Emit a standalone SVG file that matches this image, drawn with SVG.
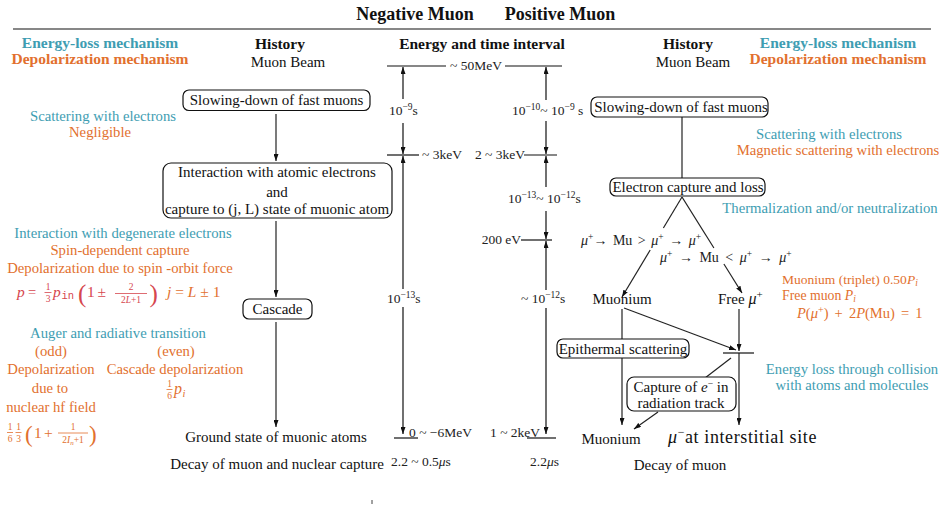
<svg xmlns="http://www.w3.org/2000/svg" width="946" height="505" viewBox="0 0 946 505">
<defs>
<marker id="ah" viewBox="0 0 7 5" refX="7" refY="2.5" markerWidth="7" markerHeight="5" markerUnits="userSpaceOnUse" orient="auto-start-reverse">
<path d="M0,0 L7,2.5 L0,5 z" fill="#111"/>
</marker>
<style>
text{font-family:"Liberation Serif","Times New Roman",serif;fill:#111}
.t{font-size:18px;font-weight:bold}
.h{font-size:15.5px;font-weight:bold}
.n{font-size:15px}
.c{text-anchor:middle}
.teal{fill:#3e9db2;font-size:14.7px}
.org{fill:#e2702e;font-size:14.7px}
.red{fill:#d6464e}
.m{font-size:13.5px;fill:#222}
.i{font-style:italic}
.sup{font-size:9.5px}
.box{fill:#fff;stroke:#111;stroke-width:1.2}
.cn{stroke:#222;stroke-width:1.2;fill:none}
.ln{stroke:#111;stroke-width:1.2;fill:none}
.ar{marker-end:url(#ah)}
.as{marker-start:url(#ah)}
</style>
</defs>

<g id="titles">
<text class="t c" x="415" y="20">Negative Muon</text>
<text class="t c" x="560" y="20">Positive Muon</text>
<line class="ln" x1="13" y1="29" x2="931" y2="29"/>
<text class="h c" x="100" y="48" style="fill:#3e9db2">Energy-loss mechanism</text>
<text class="h c" x="100" y="63.5" style="fill:#e2702e">Depolarization mechanism</text>
<text class="h c" x="280" y="49">History</text>
<text class="n c" x="288" y="67">Muon Beam</text>
<text class="h c" x="482" y="49">Energy and time interval</text>
<text class="h c" x="688" y="49">History</text>
<text class="n c" x="693" y="67">Muon Beam</text>
<text class="h c" x="838" y="48" style="fill:#3e9db2">Energy-loss mechanism</text>
<text class="h c" x="838" y="63.5" style="fill:#e2702e">Depolarization mechanism</text>
</g>

<g id="connectors">
<line class="cn ar" x1="276" y1="114" x2="276" y2="161"/>
<line class="cn ar" x1="276" y1="221" x2="276" y2="297"/>
<line class="cn ar" x1="276" y1="322" x2="276" y2="427"/>
<line class="ln" x1="387" y1="66" x2="446" y2="66"/>
<line class="ln" x1="505" y1="66" x2="562" y2="66"/>
<line class="ln" x1="387" y1="155" x2="419" y2="155"/>
<line class="ln" x1="524" y1="155" x2="557" y2="155"/>
<line class="ln" x1="521" y1="240" x2="552" y2="240"/>
<line class="ln" x1="394" y1="438" x2="418" y2="438"/>
<line class="ln" x1="527" y1="438" x2="556" y2="438"/>
<line class="ln as" x1="403" y1="67" x2="403" y2="99"/>
<line class="ln ar" x1="403" y1="123" x2="403" y2="154"/>
<line class="ln as" x1="403" y1="156" x2="403" y2="289"/>
<line class="ln ar" x1="403" y1="307" x2="403" y2="434"/>
<line class="ln as" x1="546" y1="67" x2="546" y2="100"/>
<line class="ln ar" x1="546" y1="121" x2="546" y2="154"/>
<line class="ln as" x1="546" y1="156" x2="546" y2="187"/>
<line class="ln ar" x1="546" y1="211" x2="546" y2="239"/>
<line class="ln as" x1="546" y1="241" x2="546" y2="290"/>
<line class="ln ar" x1="546" y1="308" x2="546" y2="434"/>
<line class="cn" x1="682" y1="117" x2="682" y2="178"/>
<line class="cn" x1="682" y1="197" x2="663.4" y2="228"/>
<line class="cn ar" x1="650.2" y1="250" x2="622" y2="297"/>
<line class="cn" x1="682" y1="197" x2="713.9" y2="248"/>
<line class="cn ar" x1="723.9" y1="264" x2="742" y2="293"/>
<line class="cn ar" x1="622" y1="309" x2="622" y2="425"/>
<line class="cn ar" x1="624" y1="308" x2="736" y2="350"/>
<line class="cn ar" x1="739" y1="309" x2="739" y2="351"/>
<line class="cn ar" x1="739" y1="353" x2="739" y2="425"/>
<line class="ln" x1="723" y1="353" x2="754" y2="353"/>
<line class="cn" x1="731" y1="358" x2="705" y2="378"/>
<line class="cn ar" x1="658" y1="412" x2="634" y2="429"/>
<line class="ln" x1="372" y1="500" x2="372" y2="504" style="stroke-width:0.8"/>
</g>

<g id="neg-slowing">
<rect class="box" x="183" y="90" width="187" height="20.5" rx="6"/>
<text class="n c" x="276.5" y="105">Slowing-down of fast muons</text>
</g>
<g id="neg-interaction">
<rect class="box" x="163" y="163" width="229" height="55" rx="8"/>
<text class="n c" x="277" y="177">Interaction with atomic electrons</text>
<text class="n c" x="277" y="197">and</text>
<text class="n c" x="277" y="214">capture to (j, L) state of muonic atom</text>
</g>
<g id="neg-cascade">
<rect class="box" x="243" y="299" width="69" height="20" rx="6"/>
<text class="n c" x="277.5" y="314">Cascade</text>
</g>
<g id="neg-ground">
<text class="n c" x="276" y="442">Ground state of muonic atoms</text>
<text class="n c" x="277" y="469">Decay of muon and nuclear capture</text>
</g>

<g id="neg-mechanisms">
<text class="teal c" x="103" y="121">Scattering with electrons</text>
<text class="org c" x="100" y="137">Negligible</text>
<text class="teal c" x="123" y="238">Interaction with degenerate electrons</text>
<text class="org c" x="120" y="255">Spin-dependent capture</text>
<text class="org c" x="120" y="273">Depolarization due to spin -orbit force</text>
<g>
<text class="red i" x="17" y="297" style="font-size:15.5px">p</text>
<text class="red" x="28" y="297" style="font-size:14.5px">=</text>
<text class="red c" x="48" y="290" style="font-size:9.5px">1</text>
<line x1="44.5" y1="292.5" x2="51.5" y2="292.5" stroke="#d6464e" stroke-width="0.8"/>
<text class="red c" x="48" y="301.5" style="font-size:9.5px">3</text>
<text class="red i" x="53" y="297" style="font-size:15.5px">p</text>
<text class="red" x="61.5" y="299" style="font-size:10.5px;font-family:'Liberation Mono',monospace">in</text>
<text class="red" x="78" y="301.5" style="font-size:25px">(</text>
<text class="red" x="87" y="297" style="font-size:15.5px">1</text>
<text class="red" x="97.5" y="297" style="font-size:15.5px">±</text>
<text class="red c" x="131" y="290" style="font-size:9.5px">2</text>
<line x1="115" y1="293.5" x2="147" y2="293.5" stroke="#d6464e" stroke-width="0.8"/>
<text class="red c" x="131" y="302.5" style="font-size:9.5px">2<tspan class="i">L</tspan>+1</text>
<text class="red" x="149.5" y="301.5" style="font-size:25px">)</text>
</g>
<text class="org" x="167" y="297" style="font-size:15.5px"><tspan class="i">j</tspan> = <tspan class="i">L</tspan> ± 1</text>
<text class="teal c" x="118" y="338">Auger and radiative transition</text>
<text class="org c" x="51" y="356">(odd)</text>
<text class="org c" x="176" y="356">(even)</text>
<text class="org c" x="51" y="374">Depolarization</text>
<text class="org c" x="175" y="374">Cascade depolarization</text>
<text class="org c" x="50" y="393">due to</text>
<text class="org c" x="51" y="412">nuclear hf field</text>
<text class="org c" x="169.5" y="387" style="font-size:9.5px">1</text>
<line x1="166.5" y1="389.5" x2="172.5" y2="389.5" stroke="#e2702e" stroke-width="0.8"/>
<text class="org c" x="169.5" y="398.5" style="font-size:9.5px">6</text>
<text class="org i" x="174" y="394" style="font-size:16px">p</text>
<text class="org i" x="182.5" y="397" style="font-size:10.5px">i</text>
<text class="org c" x="10" y="430" style="font-size:9.5px">1</text>
<line x1="7" y1="432.5" x2="13" y2="432.5" stroke="#e2702e" stroke-width="0.8"/>
<text class="org c" x="10" y="441.5" style="font-size:9.5px">6</text>
<text class="org c" x="18.5" y="430" style="font-size:9.5px">1</text>
<line x1="15.5" y1="432.5" x2="21.5" y2="432.5" stroke="#e2702e" stroke-width="0.8"/>
<text class="org c" x="18.5" y="441.5" style="font-size:9.5px">3</text>
<text class="org" x="25" y="442" style="font-size:23px">(</text>
<text class="org" x="34" y="438" style="font-size:15.5px">1</text>
<text class="org" x="44" y="438" style="font-size:15.5px">+</text>
<text class="org c" x="73" y="430" style="font-size:9.5px">1</text>
<line x1="58" y1="433" x2="88" y2="433" stroke="#e2702e" stroke-width="0.8"/>
<text class="org c" x="73" y="442.5" style="font-size:9.5px">2<tspan class="i">I</tspan><tspan class="i" style="font-size:7px" dy="2">n</tspan><tspan dy="-2">+1</tspan></text>
<text class="org" x="89" y="442" style="font-size:23px">)</text>
</g>

<g id="energy-labels">
<text class="m c" x="476" y="70">~ 50MeV</text>
<text class="m" x="389" y="115">10<tspan class="sup" dy="-5">−9</tspan><tspan dy="5">s</tspan></text>
<text class="m" x="422" y="159">~ 3keV</text>
<text class="m" x="387" y="303">10<tspan class="sup" dy="-5">−13</tspan><tspan dy="5">s</tspan></text>
<text class="m" x="409" y="437">0 ~ −6MeV</text>
<text class="m" x="391" y="466">2.2 ~ 0.5<tspan class="i">μ</tspan>s</text>
<text class="m" x="512" y="115">10<tspan class="sup" dy="-5">−10</tspan><tspan dy="5">~ 10</tspan><tspan class="sup" dy="-5">−9</tspan><tspan dy="5"> s</tspan></text>
<text class="m" x="525" y="159" text-anchor="end">2 ~ 3keV</text>
<text class="m" x="508" y="203">10<tspan class="sup" dy="-5">−13</tspan><tspan dy="5">~ 10</tspan><tspan class="sup" dy="-5">−12</tspan><tspan dy="5">s</tspan></text>
<text class="m" x="521" y="244" text-anchor="end">200 eV</text>
<text class="m" x="521" y="303">~ 10<tspan class="sup" dy="-5">−12</tspan><tspan dy="5">s</tspan></text>
<text class="m" x="490" y="437">1 ~ 2keV</text>
<text class="m" x="530" y="466">2.2<tspan class="i">μ</tspan>s</text>
</g>

<g id="pos-slowing">
<rect class="box" x="591" y="97" width="177" height="20" rx="6"/>
<text class="n c" x="681" y="112">Slowing-down of fast muons</text>
</g>
<g id="pos-electron-capture">
<rect class="box" x="610" y="178" width="155" height="18" rx="6"/>
<text class="n c" x="688" y="192">Electron capture and loss</text>
</g>
<g id="pos-branch-labels">
<text class="m" x="581" y="245" style="font-size:14px;word-spacing:2px"><tspan class="i">μ</tspan><tspan class="sup" dy="-5">+</tspan><tspan dy="5">→ Mu &gt; </tspan><tspan class="i">μ</tspan><tspan class="sup" dy="-5">+</tspan><tspan dy="5"> → </tspan><tspan class="i">μ</tspan><tspan class="sup" dy="-5">+</tspan></text>
<text class="m" x="660" y="262" style="font-size:14px;word-spacing:3px"><tspan class="i">μ</tspan><tspan class="sup" dy="-5">+</tspan><tspan dy="5"> → Mu &lt; </tspan><tspan class="i">μ</tspan><tspan class="sup" dy="-5">+</tspan><tspan dy="5"> → </tspan><tspan class="i">μ</tspan><tspan class="sup" dy="-5">+</tspan></text>
</g>
<g id="pos-muonium">
<text class="n c" x="622" y="304">Muonium</text>
</g>
<g id="pos-free">
<text class="n" x="718" y="304">Free <tspan class="i" style="font-size:16px">μ</tspan><tspan style="font-size:11px" dy="-6">+</tspan></text>
</g>
<g id="pos-epithermal">
<rect class="box" x="557" y="339" width="132" height="19" rx="6"/>
<text class="n c" x="623" y="353.5">Epithermal scattering</text>
</g>
<g id="pos-capture">
<rect class="box" x="627" y="377" width="109" height="34" rx="7"/>
<text class="n c" x="681" y="392">Capture of <tspan class="i">e</tspan><tspan class="sup" dy="-5">−</tspan><tspan dy="5"> in</tspan></text>
<text class="n c" x="681" y="408">radiation track</text>
</g>
<g id="pos-muonium-final">
<text class="n c" x="611" y="444">Muonium</text>
</g>
<g id="pos-interstitial">
<text x="668" y="443" style="font-size:18px;letter-spacing:0.6px"><tspan class="i">μ</tspan><tspan style="font-size:12px" dy="-7">−</tspan><tspan dy="7">at interstitial site</tspan></text>
</g>
<g id="pos-decay">
<text class="n c" x="680" y="470">Decay of muon</text>
</g>

<g id="pos-mechanisms">
<text class="teal c" x="829" y="138.5">Scattering with electrons</text>
<text class="org c" x="838" y="155">Magnetic scattering with electrons</text>
<text class="teal c" x="830" y="213">Thermalization and/or neutralization</text>
<text class="org" x="782" y="284" style="font-size:13.5px">Muonium (triplet) 0.50<tspan class="i">P</tspan><tspan class="i" style="font-size:9.5px" dy="2">i</tspan></text>
<text class="org" x="782" y="300" style="font-size:13.8px">Free muon <tspan class="i">P</tspan><tspan class="i" style="font-size:9.5px" dy="2">i</tspan></text>
<text class="org" x="797" y="318" style="font-size:14.5px;word-spacing:2.5px"><tspan class="i">P</tspan>(<tspan class="i">μ</tspan><tspan style="font-size:10px" dy="-5">+</tspan><tspan dy="5">) + 2</tspan><tspan class="i">P</tspan>(Mu) = 1</text>
<text class="teal c" x="852" y="374">Energy loss through collision</text>
<text class="teal c" x="852" y="390">with atoms and molecules</text>
</g>
</svg>
